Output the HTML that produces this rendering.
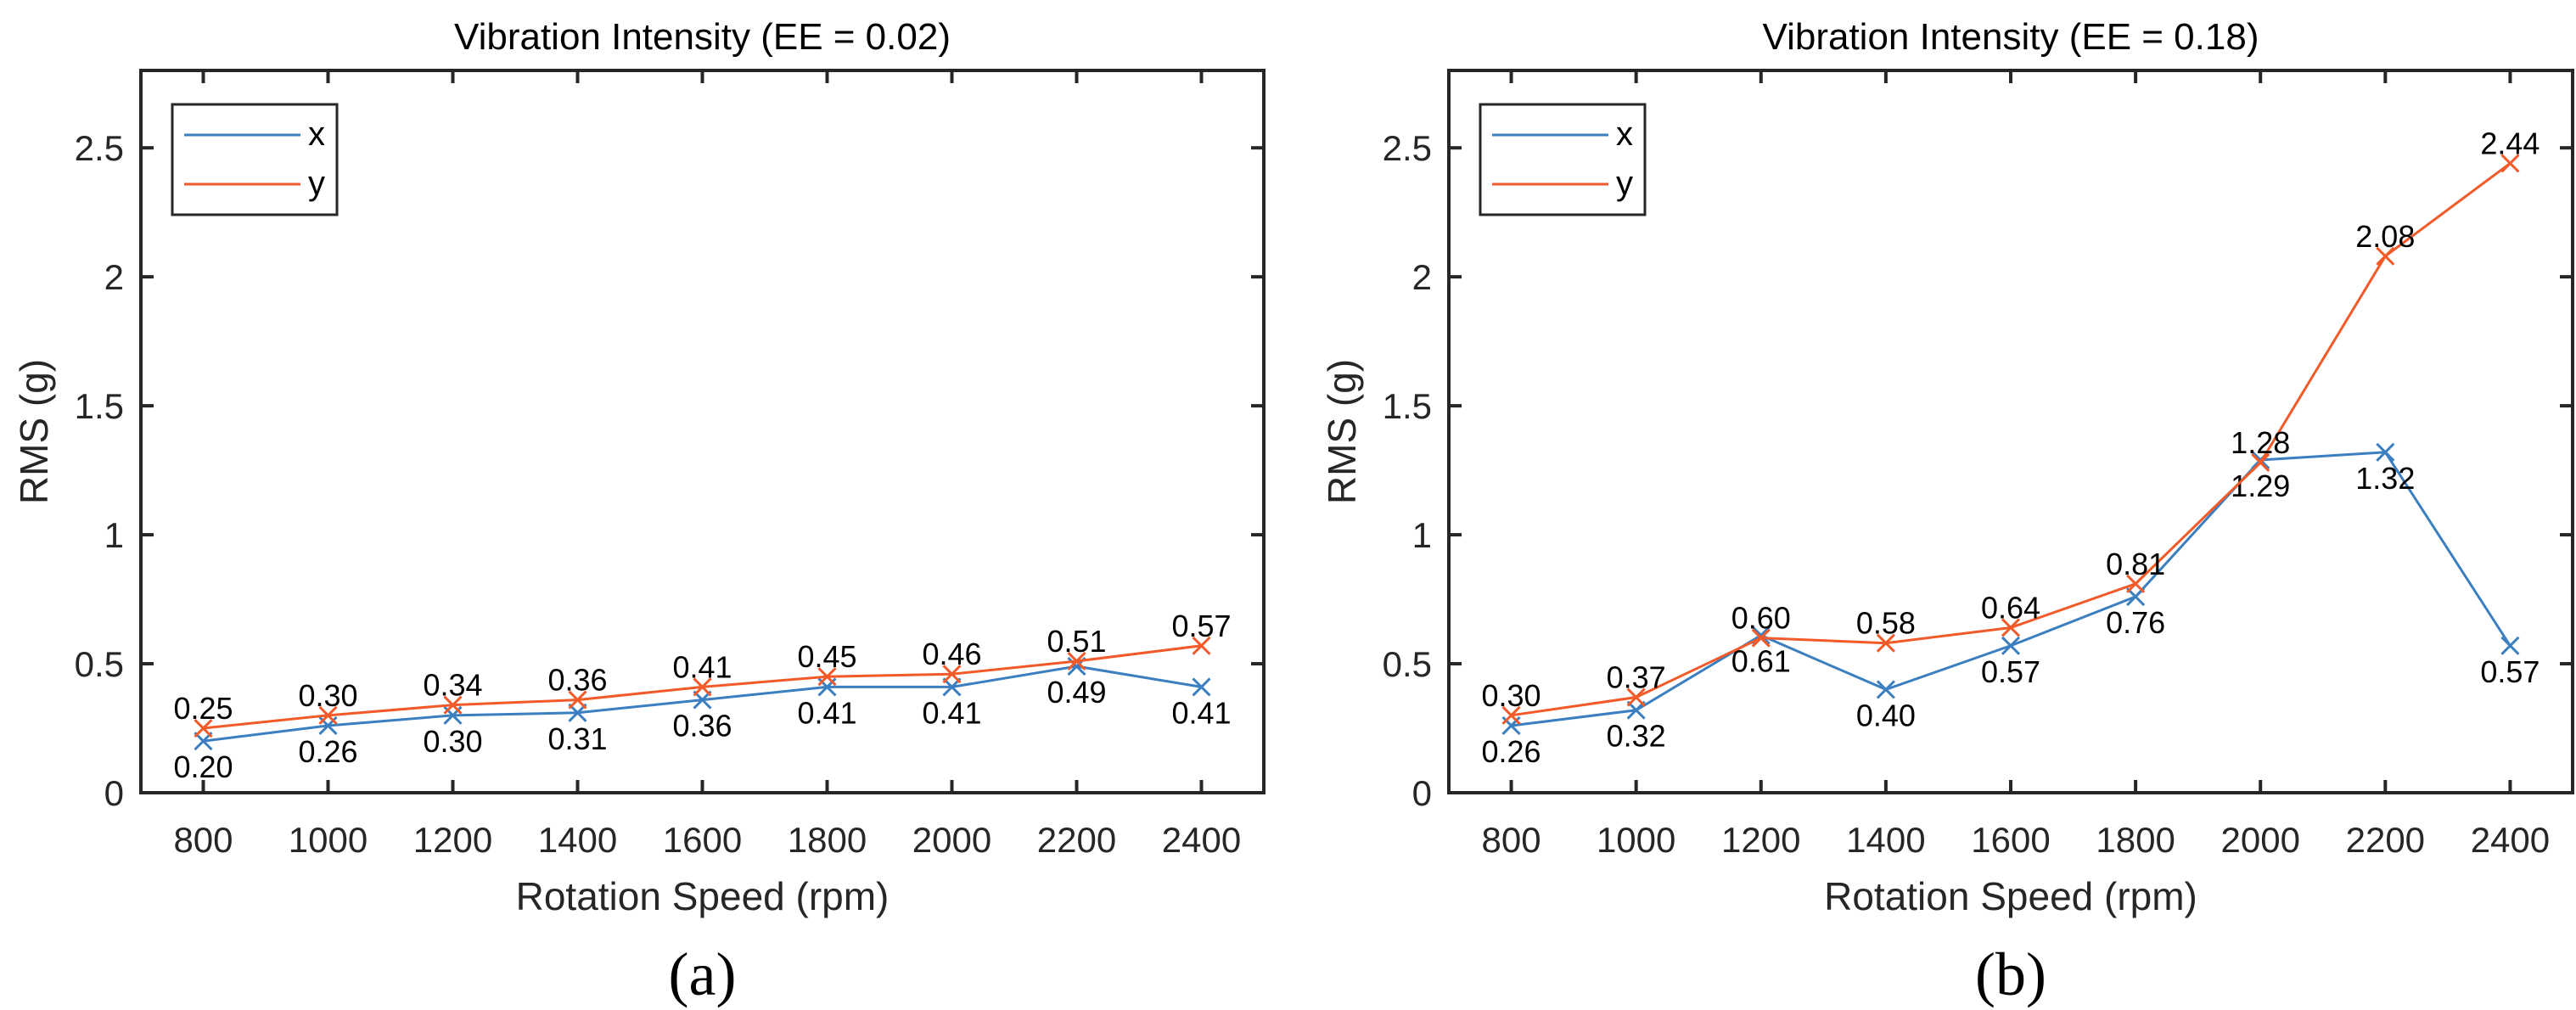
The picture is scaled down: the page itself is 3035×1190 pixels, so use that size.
<!DOCTYPE html>
<html><head><meta charset="utf-8"><style>
html,body{margin:0;padding:0;background:#fff;}
svg{display:block;font-family:"Liberation Sans",sans-serif;}
</style></head><body>
<svg id="chart" width="3035" height="1190" viewBox="0 0 3035 1190"></svg>
<script>
const categories = [800,1000,1200,1400,1600,1800,2000,2200,2400];
const xTicks = [800,1000,1200,1400,1600,1800,2000,2200,2400];
const yTicks = [0,0.5,1,1.5,2,2.5];
const yTickLabels = ["0","0.5","1","1.5","2","2.5"];
const aX = [0.20,0.26,0.30,0.31,0.36,0.41,0.41,0.49,0.41];
const aY = [0.25,0.30,0.34,0.36,0.41,0.45,0.46,0.51,0.57];
const bX = [0.26,0.32,0.61,0.40,0.57,0.76,1.29,1.32,0.57];
const bY = [0.30,0.37,0.60,0.58,0.64,0.81,1.28,2.08,2.44];
const titles = ["Vibration Intensity (EE = 0.02)","Vibration Intensity (EE = 0.18)"];
const captions = ["(a)","(b)"];

const NS="http://www.w3.org/2000/svg";
const svg=document.getElementById('chart');
function mk(tag,attrs,parent,text){const e=document.createElementNS(NS,tag);for(const k in attrs)e.setAttribute(k,attrs[k]);if(text!==undefined)e.textContent=text;parent.appendChild(e);return e;}
const BLUE="#3B7FC0", ORANGE="#F25A29", AX="#262626";

function panel(idx,left,right,sx,sy){
  const top=83,bottom=934;
  const g=mk('g',{},svg);
  
  
  const xs=v=>left+(v-700)/(2500-700)*(right-left);
  const ys=v=>bottom-(v/2.8)*(bottom-top);
  const t=mk('text',{x:(left+right)/2,y:58,'text-anchor':'middle','font-size':44,fill:'#000'},g,titles[idx]);
  
  
  xTicks.forEach(v=>{
    const x=xs(v);
    mk('line',{x1:x,x2:x,y1:bottom,y2:bottom-15,stroke:AX,'stroke-width':4},g);
    mk('line',{x1:x,x2:x,y1:top,y2:top+15,stroke:AX,'stroke-width':4},g);
    const l=mk('text',{x:x,y:1004,'text-anchor':'middle','font-size':42,fill:'#262626'},g,String(v));
    
    
  });
  yTicks.forEach((v,i)=>{
    const y=ys(v);
    mk('line',{x1:left,x2:left+15,y1:y,y2:y,stroke:AX,'stroke-width':4},g);
    mk('line',{x1:right,x2:right-15,y1:y,y2:y,stroke:AX,'stroke-width':4},g);
    const l=mk('text',{x:left-20,y:y+15,'text-anchor':'end','font-size':42,fill:'#262626'},g,yTickLabels[i]);
    
    
  });
  const box=mk('rect',{x:left,y:top,width:right-left,height:bottom-top,fill:'none',stroke:AX,'stroke-width':4},g);
  
  
  const xl=mk('text',{x:(left+right)/2,y:1072,'text-anchor':'middle','font-size':46,fill:'#262626'},g,'Rotation Speed (rpm)');
  
  
  const yl=mk('text',{x:0,y:0,'text-anchor':'middle','font-size':46,fill:'#262626',transform:`translate(${left-110},${(top+bottom)/2}) rotate(-90)`},g,'RMS (g)');
  
  
  [[sx,BLUE,'series-x',30],[sy,ORANGE,'series-y',-24]].forEach(([arr,col,name,off])=>{
    const pts=categories.map((c,i)=>xs(c)+','+ys(arr[i])).join(' ');
    const pl=mk('polyline',{points:pts,fill:'none',stroke:col,'stroke-width':3},g);
    
    
    categories.forEach((c,i)=>{
      const x=xs(c),y=ys(arr[i]),s=10;
      const m=mk('path',{d:`M${x-s},${y-s}L${x+s},${y+s}M${x-s},${y+s}L${x+s},${y-s}`,stroke:col,'stroke-width':3},g);
      
      
      const lab=mk('text',{x:x,y:y+off+13,'text-anchor':'middle','font-size':36,fill:'#000'},g,arr[i].toFixed(2));
      
      
    });
  });
  const lg=mk('g',{},g);
  
  
  mk('rect',{x:left+37,y:123,width:194,height:130,fill:'#fff',stroke:AX,'stroke-width':3},lg);
  [['x',BLUE,159],['y',ORANGE,217]].forEach(([n,col,y])=>{
    const e=mk('g',{},lg);
    
    
    mk('line',{x1:left+51,x2:left+188,y1:y,y2:y,stroke:col,'stroke-width':3},e);
    mk('text',{x:left+197,y:y+12,'font-size':40,fill:'#000'},e,n);
  });
  const cap=mk('text',{x:(left+right)/2,y:1172,'text-anchor':'middle','font-size':72,fill:'#000','font-family':'"Liberation Serif",serif'},g,captions[idx]);
  
  
}
panel(0,166,1489,aX,aY);
panel(1,1707,3031,bX,bY);
</script>
</body></html>
